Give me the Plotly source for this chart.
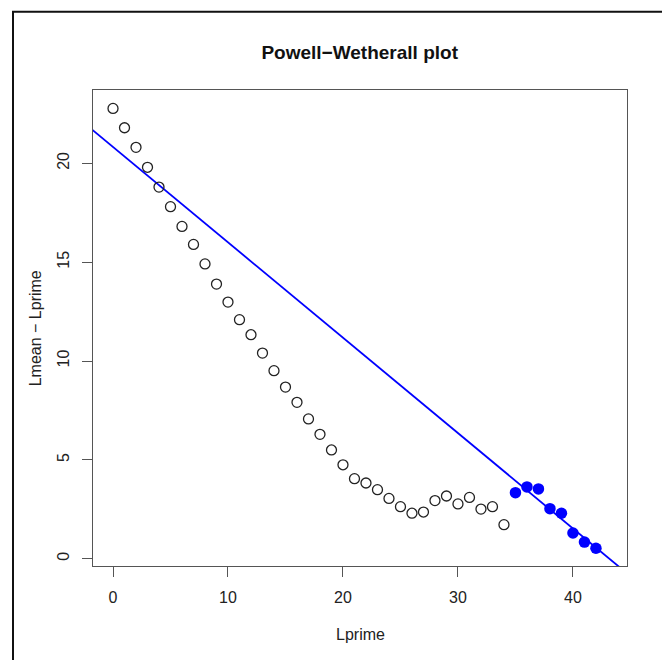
import numpy as np
import plotly.graph_objects as go

# Data
lprime = list(range(43))
lmean_minus_lprime = [
    22.78, 21.80, 20.81, 19.80, 18.80, 17.81, 16.81, 15.90, 14.91, 13.89,
    12.98, 12.09, 11.33, 10.40, 9.51, 8.68, 7.91, 7.07, 6.29, 5.50,
    4.75, 4.05, 3.83, 3.49, 3.05, 2.63, 2.30, 2.36, 2.94, 3.17,
    2.77, 3.10, 2.51, 2.63, 1.72, 3.34, 3.63, 3.53, 2.53, 2.30,
    1.30, 0.84, 0.53,
]
fit_start = 35  # points from this Lprime onward are used for the regression

x_open = lprime[:fit_start]
y_open = lmean_minus_lprime[:fit_start]
x_fit = lprime[fit_start:]
y_fit = lmean_minus_lprime[fit_start:]

slope, intercept = np.polyfit(x_fit, y_fit, 1)
x_line = [-10, 60]
y_line = [intercept + slope * v for v in x_line]

FONT = "Liberation Sans, Arial, sans-serif"
AXC = "#555555"

fig = go.Figure()
fig.add_trace(go.Scatter(
    x=x_line, y=y_line, mode="lines",
    line=dict(color="#0000FF", width=1.8), hoverinfo="skip", showlegend=False,
))
fig.add_trace(go.Scatter(
    x=x_open, y=y_open, mode="markers",
    marker=dict(symbol="circle-open", size=10, color="#222222", line=dict(width=1.3)),
    showlegend=False,
))
fig.add_trace(go.Scatter(
    x=x_fit, y=y_fit, mode="markers",
    marker=dict(symbol="circle", size=11.5, color="#0000FF"),
    showlegend=False,
))

axis_common = dict(
    showgrid=False, zeroline=False, showline=True, mirror=True,
    linecolor=AXC, linewidth=1.3, ticks="outside", ticklen=10, tickwidth=1.3,
    tickcolor=AXC, tickfont=dict(family=FONT, size=16, color="#222222"),
)

fig.update_layout(
    width=662, height=660,
    margin=dict(l=93, r=35, t=90, b=94),
    paper_bgcolor="white", plot_bgcolor="white",
    title=dict(text="<b>Powell\u2212Wetherall plot</b>", x=(92.7 + 626.7) / 2 / 662,
               xanchor="center", y=1 - 52 / 660, yanchor="middle",
               font=dict(family=FONT, size=19, color="#111111")),
    xaxis=dict(range=[-1.74, 44.7], tickvals=[0, 10, 20, 30, 40],
               ticklabelstandoff=7, **axis_common),
    yaxis=dict(range=[-0.37, 23.71], tickvals=[0, 5, 10, 15, 20], tickangle=-90,
               ticklabelstandoff=6, **axis_common),
    annotations=[
        dict(text="Lprime", xref="paper", yref="paper", x=0.5, y=-(634 - 566) / 476,
             xanchor="center", yanchor="middle", showarrow=False,
             font=dict(family=FONT, size=16, color="#222222")),
        dict(text="Lmean \u2212 Lprime", xref="paper", yref="paper",
             x=(35 - 92.7) / 534, y=0.5, textangle=-90,
             xanchor="center", yanchor="middle", showarrow=False,
             font=dict(family=FONT, size=16, color="#222222")),
    ],
    shapes=[
        dict(type="rect", xref="paper", yref="paper",
             x0=(12.7 - 92.7) / 534, y0=-(700 - 566) / 476,
             x1=(700 - 92.7) / 534, y1=1 + (90 - 11.7) / 476,
             line=dict(color="#111111", width=2), layer="above"),
    ],
)

fig.write_html(
    "out.html",
    config={"displayModeBar": False},
    post_script="document.body.style.margin='0';document.body.style.padding='0';",
)
